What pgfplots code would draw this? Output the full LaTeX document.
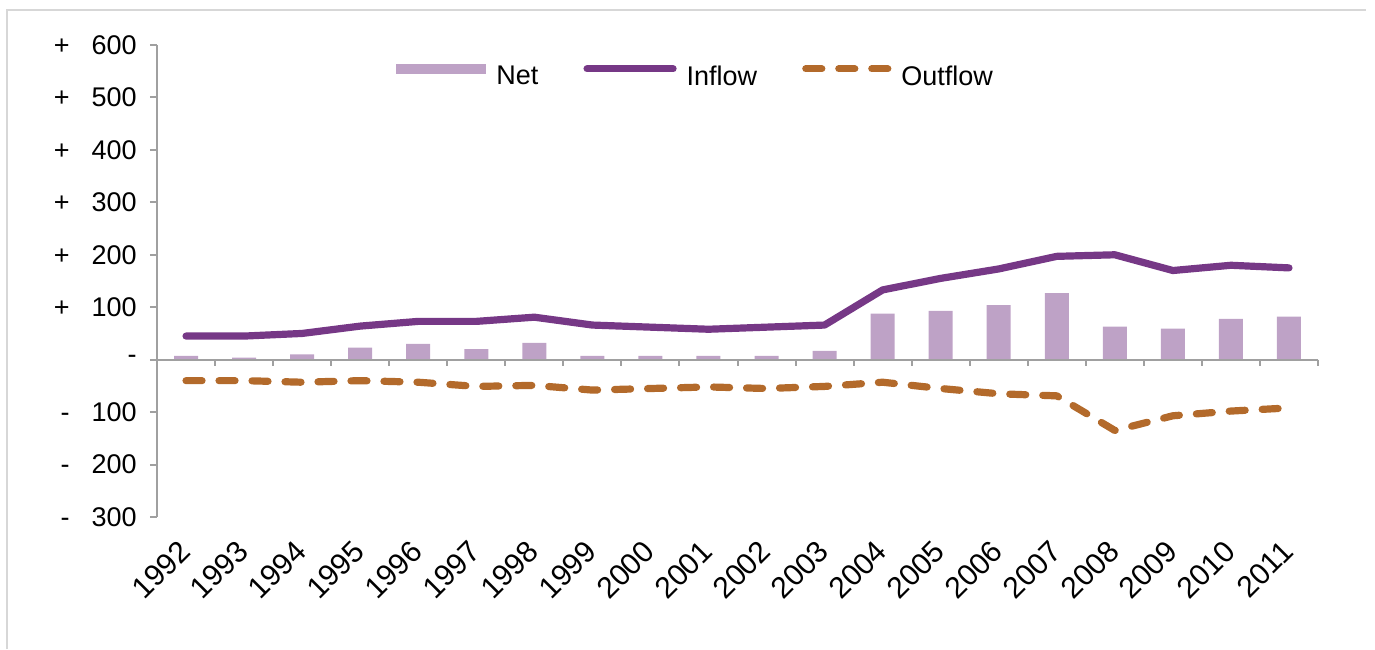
\documentclass[border=0pt]{standalone}
\usepackage{fontspec}
\setmainfont{Liberation Sans}
\usepackage{pgfplots}
\usepackage{pgfplotstable}
\pgfplotsset{compat=1.18}

\definecolor{netc}{RGB}{190,162,198}
\definecolor{inc}{RGB}{118,56,134}
\definecolor{outc}{RGB}{179,106,43}
\definecolor{axc}{RGB}{160,160,160}
\definecolor{framec}{RGB}{215,215,215}

% Flows by year (category index, year, net, inflow, outflow)
\pgfplotstableread{
x year net inflow outflow
0  1992   7  45  -40
1  1993   4  45  -40
2  1994  10  50  -43
3  1995  23  64  -40
4  1996  30  73  -43
5  1997  20  73  -51
6  1998  32  81  -49
7  1999   7  66  -58
8  2000   7  62  -55
9  2001   7  58  -52
10 2002   7  62  -55
11 2003  17  66  -51
12 2004  88 133  -43
13 2005  93 155  -55
14 2006 104 173  -65
15 2007 127 197  -69
16 2008  63 200 -135
17 2009  59 170 -107
18 2010  78 180  -98
19 2011  82 175  -92
}\datatable

% accounting-style tick labels: sign in its own column, number right aligned
\newcommand{\pl}[1]{\makebox[16pt][r]{+}\makebox[33.5pt][r]{#1}}
\newcommand{\mi}[1]{\makebox[16pt][r]{-}\makebox[33.5pt][r]{#1}}
\newcommand{\zr}{\makebox[49.5pt][r]{-}}

\begin{document}
\begin{tikzpicture}
\useasboundingbox (0,0) rectangle (687.5pt,324.5pt);
% outer chart frame (left and top edges)
\draw[framec, line width=0.75pt] (3.5pt,0) -- (3.5pt,319.5pt) -- (683pt,319.5pt);
\begin{axis}[
  at={(78.5pt,66pt)}, anchor=south west,
  scale only axis, width=580.5pt, height=236pt,
  font=\fontsize{13.5pt}{16pt}\selectfont,
  xmin=-0.5, xmax=19.5, ymin=-300, ymax=600,
  axis x line*=bottom, axis y line*=left,
  x axis line style={draw=none},
  y axis line style={axc, line width=1pt},
  xtick={0,...,19},
  xticklabels={1992,1993,1994,1995,1996,1997,1998,1999,2000,2001,2002,2003,2004,2005,2006,2007,2008,2009,2010,2011},
  xtick style={draw=none},
  xticklabel style={xshift=-0.5pt, yshift=-11pt, rotate=45, anchor=east, inner sep=0pt,
    font=\fontsize{15pt}{17pt}\selectfont},
  ytick={-300,-200,-100,0,100,200,300,400,500,600},
  yticklabels={\mi{300},\mi{200},\mi{100},\zr,\pl{100},\pl{200},\pl{300},\pl{400},\pl{500},\pl{600}},
  ytick style={axc, line width=1pt},
  tick align=outside, major tick length=3.5pt,
  yticklabel style={anchor=east, inner sep=0pt, xshift=-6.5pt},
  clip=false,
  legend columns=3,
  legend style={at={(0.2059,0.9325)}, anchor=west, draw=none, fill=none,
    inner sep=0pt, nodes={inner sep=0pt},
    font=\fontsize{13.5pt}{16pt}\selectfont,
    /tikz/every odd column/.append style={column sep=5pt},
    /tikz/every even column/.append style={column sep=22.5pt},
    /tikz/column 4/.append style={column sep=20.5pt}},
]
\addplot[ybar, bar width=12pt, fill=netc, draw=none,
  legend image code/.code={\fill[netc, draw=none] (0pt,1.5pt) rectangle (45pt,6.5pt); \path[draw=none, fill=none] (0pt,-6.5pt) -- (0pt,6.5pt);}]
  table[x=x, y=net]{\datatable};
\addlegendentry{Net}
\addplot[inc, no marks, line width=3.6pt, line join=round, line cap=round,
  legend image code/.code={\draw[inc, line width=3.6pt, line cap=round] (1.75pt,4pt) -- (44.75pt,4pt); \path[draw=none, fill=none] (0pt,-4pt) -- (0pt,4pt);}]
  table[x=x, y=inflow]{\datatable};
\addlegendentry{Inflow}
\addplot[outc, no marks, line width=3.6pt, line join=round, line cap=round,
  dash pattern=on 8pt off 8.5pt,
  legend image code/.code={\draw[outc, line width=3.6pt, line cap=round, dash pattern=on 8pt off 8.5pt] (1.75pt,4pt) -- (42.75pt,4pt); \path[draw=none, fill=none] (0pt,-4pt) -- (0pt,4pt);}]
  table[x=x, y=outflow]{\datatable};
\addlegendentry{Outflow}
% zero line with category separators
\draw[axc, line width=1pt] (axis cs:-0.5,0) -- (axis cs:19.5,0);
\pgfplotsinvokeforeach{-0.5,0.5,...,19.5}{
  \draw[axc, line width=1pt] (axis cs:#1,0) -- ++(0pt,-3pt);
}
\end{axis}
\end{tikzpicture}
\end{document}
